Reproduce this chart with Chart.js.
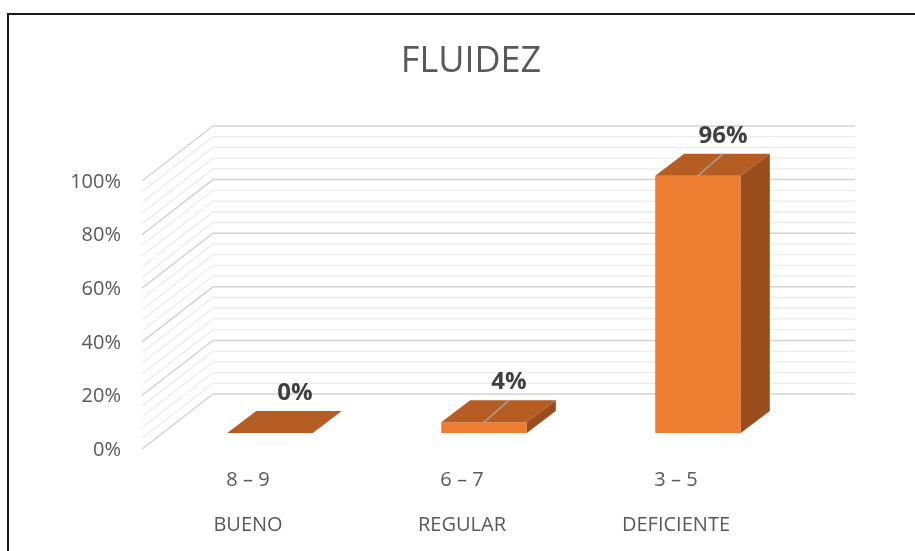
<!DOCTYPE html>
<html>
<head>
<meta charset="utf-8">
<title>FLUIDEZ</title>
<script src="https://cdn.jsdelivr.net/npm/chart.js@4.4.1/dist/chart.umd.min.js"></script>
<style>
  html, body { margin: 0; padding: 0; background: #fff; }
  #wrap { width: 915px; height: 551px; }
</style>
</head>
<body>
<div id="wrap"><canvas id="fluidezChart" width="915" height="551"></canvas></div>
<script>
// Data
const ranges = ['8 – 9', '6 – 7', '3 – 5'];
const levels = ['BUENO', 'REGULAR', 'DEFICIENTE'];
const percentages = [0, 4, 96];
const tickValues = [0, 20, 40, 60, 80, 100];
const tickLabels = ['0%', '20%', '40%', '60%', '80%', '100%'];

const FONT = "'Open Sans', 'Noto Sans', sans-serif";
const TEXT = '#595959';

// 3D offsets (px) relative to the bar front plane
const wallDx = 50, wallDy = -39;   // back wall
const edgeDx = -21, edgeDy = 16;   // front edge of floor / side wall
const barDx = 29, barDy = -22;     // bar depth

const pseudo3d = {
    id: 'pseudo3d',
    beforeDatasetsDraw(chart) {
        const { ctx, chartArea: a, scales: { y } } = chart;
        ctx.save();
        // back wall + side wall grid, minor every 4%
        for (let v = 0; v <= 100; v += 4) {
            const py = y.getPixelForValue(v);
            const major = tickValues.includes(v);
            ctx.strokeStyle = major ? '#d4d4d4' : '#ececec';
            ctx.lineWidth = major ? 1.5 : 1.3;
            ctx.beginPath();
            ctx.moveTo(a.left + edgeDx, py + edgeDy);
            ctx.lineTo(a.left + wallDx, py + wallDy);
            ctx.lineTo(a.right + wallDx, py + wallDy);
            ctx.stroke();
        }
        // y tick labels on the front edge
        ctx.fillStyle = TEXT;
        ctx.font = '20px ' + FONT;
        ctx.textAlign = 'right';
        ctx.textBaseline = 'middle';
        tickValues.forEach((v, i) => {
            ctx.fillText(tickLabels[i], 121, y.getPixelForValue(v) + edgeDy + 1);
        });
        ctx.restore();
    },
    afterDatasetsDraw(chart) {
        const { ctx, scales: { x } } = chart;
        const meta = chart.getDatasetMeta(0);
        ctx.save();
        meta.data.forEach((bar, i) => {
            const { x: cx, y: top, base, width } = bar.getProps(['x', 'y', 'base', 'width'], true);
            const l = cx - width / 2, r = cx + width / 2;
            // top face
            ctx.fillStyle = '#b55d22';
            ctx.beginPath();
            ctx.moveTo(l, top);
            ctx.lineTo(r, top);
            ctx.lineTo(r + barDx, top + barDy);
            ctx.lineTo(l + barDx, top + barDy);
            ctx.closePath();
            ctx.fill();
            // side face
            if (base - top > 0.5) {
                ctx.fillStyle = '#9b4e1d';
                ctx.beginPath();
                ctx.moveTo(r, base);
                ctx.lineTo(r, top);
                ctx.lineTo(r + barDx, top + barDy);
                ctx.lineTo(r + barDx, base + barDy);
                ctx.closePath();
                ctx.fill();
            }
            // leader line
            if (percentages[i] > 0) {
                ctx.strokeStyle = '#a6a6a6';
                ctx.lineWidth = 1.5;
                ctx.beginPath();
                ctx.moveTo(cx, top);
                ctx.lineTo(cx + 25, top + barDy);
                ctx.stroke();
            }
            // data label
            ctx.fillStyle = '#404040';
            ctx.font = 'bold 24px ' + FONT;
            ctx.textAlign = 'center';
            ctx.textBaseline = 'middle';
            ctx.fillText(percentages[i] + '%', cx + 25, top + barDy - 18);
        });
        // category labels on the front edge
        ctx.fillStyle = TEXT;
        ctx.font = '20px ' + FONT;
        ctx.textAlign = 'center';
        ctx.textBaseline = 'middle';
        ranges.forEach((lbl, i) => {
            const px = x.getPixelForValue(i) - 22;
            ctx.fillText(lbl, px, 480);
            ctx.fillText(levels[i], px, 525);
        });
        ctx.restore();
    },
    afterDraw(chart) {
        const { ctx } = chart;
        ctx.save();
        // title
        ctx.fillStyle = TEXT;
        ctx.font = '36px ' + FONT;
        ctx.textAlign = 'center';
        ctx.textBaseline = 'middle';
        ctx.fillText('FLUIDEZ', 471, 62);
        // frame
        ctx.strokeStyle = '#1a1a1a';
        ctx.lineWidth = 2;
        ctx.beginPath();
        ctx.moveTo(8, 551);
        ctx.lineTo(8, 14);
        ctx.lineTo(915, 14);
        ctx.stroke();
        ctx.restore();
    }
};

const ctx = document.getElementById('fluidezChart').getContext('2d');
const fluidezChart = new Chart(ctx, {
    type: 'bar',
    data: {
        labels: levels,
        datasets: [{
            label: 'FLUIDEZ',
            data: percentages,
            backgroundColor: '#ed7d31',
            borderWidth: 0,
            barPercentage: 0.4,
            categoryPercentage: 1
        }]
    },
    options: {
        responsive: false,
        devicePixelRatio: 1,
        animation: false,
        layout: {
            padding: { left: 163, right: 110, top: 165, bottom: 118 }
        },
        scales: {
            x: { display: false },
            y: { display: false, min: 0, max: 100 }
        },
        plugins: {
            legend: { display: false },
            title: { display: false },
            tooltip: { enabled: false }
        }
    },
    plugins: [pseudo3d]
});
</script>
</body>
</html>
